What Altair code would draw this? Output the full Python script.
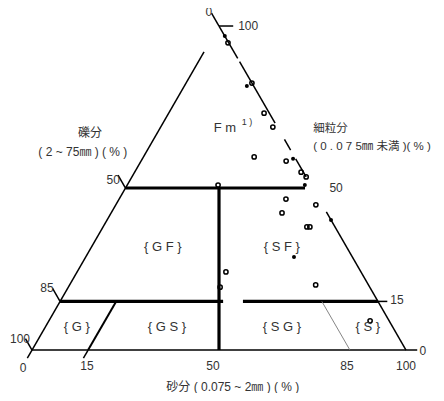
import altair as alt
import pandas as pd

# ---- sample data (ternary: sand %, fines %; gravel = 100 - sand - fines) ----
sand_open = [5.0, 17.6, 25.5, 30.0, 29.6, 38.8, 44.5, 46.6, 24.3, 44.6, 53.5, 45.7, 54.5, 55.3, 39.8, 40.6, 65.8, 85.9]
fines_open = [94.8, 82.4, 73.1, 68.8, 59.6, 58.3, 54.9, 53.4, 50.9, 46.6, 44.8, 42.3, 38.0, 38.0, 24.1, 19.4, 20.1, 9.0]
sand_solid = [3.1, 16.7, 40.3, 47.5, 59.9, 55.7]
fines_solid = [96.9, 81.5, 59.0, 50.9, 40.1, 28.7]

# ---- classification boundaries / frame (ternary endpoints: sand, fines) ----
seg_s1 = [0, 0, 10, 11, 35, 41, 57.4, 85, 0, 25, 0, 48.9, 15, 70,
          0, 0, 0, 0, 0, 15, 100, 85, 0]
seg_f1 = [0, 0, 90, 89, 65, 59, 42.6, 15, 50, 50, 15, 15, 0, 15,
          100, 50, 15, 0, 0, 0, 0, 15, 100]
seg_s2 = [100, 0, 0, 30, 38.3, 46.6, 85, 100, 48, 50, 43.6, 85, 15, 85,
          -4, -4, -4, -3.5, 0, 15, 103, 87.5, 3.8]
seg_f2 = [0, 92, 100, 70, 61.7, 53.4, 15, 0, 50, 0, 15, 15, 15, 0,
          104, 54, 19, 3.5, -2.5, -2.5, 0, 15, 100]
seg_style = ["frame", "frame", "frame", "frame", "frame", "frame", "frame", "frame",
             "major", "major", "major", "major", "minor", "thin",
             "frame", "frame", "frame", "frame", "frame", "frame", "frame", "frame", "frame"]
style_w = {"frame": 1.5, "major": 3.2, "minor": 2.0, "thin": 0.9}
style_c = {"frame": "#000000", "major": "#000000", "minor": "#000000", "thin": "#777777"}

# ---- texts ----
tick_text = ["0", "50", "85", "100", "0", "15", "50", "85", "100", "0", "15", "50", "100"]
tick_x = [47.3, 21.7, 4.0, -3.2, -2.4, 14.7, 48.4, 84.2, 100.0, 104.5, 97.6, 81.3, 57.8]
tick_y = [104.3, 52.5, 19.1, 3.4, -5.6, -4.9, -4.9, -4.9, -4.9, -0.3, 15.4, 50.0, 100.0]

zone_text = ["{ G }", "{ G S }", "{ S G }", "{ S }", "{ S F }", "{ G F }", "F m"]
zone_x = [12.0, 36.1, 66.8, 89.8, 66.8, 35.0, 51.6]
zone_y = [7.1, 7.1, 7.1, 7.1, 31.8, 31.8, 68.5]

axis_text_c = ["礫分", "( 2 ~ 75㎜ ) ( % )", "砂分 ( 0.075 ~ 2㎜ ) ( % )"]
axis_x_c = [15.5, 13.6, 53.7]
axis_y_c = [67.0, 61.1, -11.4]
axis_text_l = ["細粒分", "( 0 . 0 7 5㎜ 未満 )( % )"]
axis_x_l = [75.2, 75.2]
axis_y_l = [68.2, 62.7]

FONT = "Liberation Sans, Noto Sans CJK JP"
TXT = "#333333"

sx = alt.Scale(domain=[-6.417, 108.02], nice=False, zero=False)
sy = alt.Scale(domain=[-13.27, 105.56], nice=False, zero=False)


def X(f):
    return alt.X(f, type="quantitative", scale=sx, axis=None)


def Y(f):
    return alt.Y(f, type="quantitative", scale=sy, axis=None)


segs = pd.DataFrame({"s1": seg_s1, "f1": seg_f1, "s2": seg_s2, "f2": seg_f2, "st": seg_style})
segs["w"] = segs["st"].map(style_w)
segs["c"] = segs["st"].map(style_c)

rules = alt.Chart(segs).transform_calculate(
    xa="datum.s1 + datum.f1 / 2", ya="datum.f1",
    xb="datum.s2 + datum.f2 / 2", yb="datum.f2",
).mark_rule(strokeCap="butt").encode(
    x=X("xa"), y=Y("ya"), x2="xb:Q", y2="yb:Q",
    strokeWidth=alt.StrokeWidth("w:Q", scale=None),
    color=alt.Color("c:N", scale=None),
)

open_df = pd.DataFrame({"sand": sand_open, "fines": fines_open})
solid_df = pd.DataFrame({"sand": sand_solid, "fines": fines_solid})

open_pts = alt.Chart(open_df).transform_calculate(
    px="datum.sand + datum.fines / 2", py="datum.fines"
).mark_point(shape="circle", filled=False, size=18, strokeWidth=1.5, color="black", opacity=1).encode(
    x=X("px"), y=Y("py")
)
solid_pts = alt.Chart(solid_df).transform_calculate(
    px="datum.sand + datum.fines / 2", py="datum.fines"
).mark_circle(size=16, color="black", opacity=1).encode(
    x=X("px"), y=Y("py")
)

ticks = alt.Chart(pd.DataFrame({"t": tick_text, "x": tick_x, "y": tick_y})).mark_text(
    font=FONT, fontSize=12, color=TXT, align="center", baseline="middle"
).encode(x=X("x"), y=Y("y"), text="t:N")

zones = alt.Chart(pd.DataFrame({"t": zone_text, "x": zone_x, "y": zone_y})).mark_text(
    font=FONT, fontSize=13, color=TXT, align="center", baseline="middle"
).encode(x=X("x"), y=Y("y"), text="t:N")

sup = alt.Chart(pd.DataFrame({"t": ["1 )"], "x": [57.5], "y": [70.4]})).mark_text(
    font=FONT, fontSize=9, color=TXT, align="center", baseline="middle"
).encode(x=X("x"), y=Y("y"), text="t:N")

axc = alt.Chart(pd.DataFrame({"t": axis_text_c, "x": axis_x_c, "y": axis_y_c})).mark_text(
    font=FONT, fontSize=12, color=TXT, align="center", baseline="middle"
).encode(x=X("x"), y=Y("y"), text="t:N")

axl = alt.Chart(pd.DataFrame({"t": axis_text_l, "x": axis_x_l, "y": axis_y_l})).mark_text(
    font=FONT, fontSize=11.5, color=TXT, align="left", baseline="middle"
).encode(x=X("x"), y=Y("y"), text="t:N")

chart = alt.layer(rules, open_pts, solid_pts, ticks, zones, sup, axc, axl).properties(
    width=428, height=385, padding=0, autosize=alt.AutoSizeParams(type="none"),
    background="white",
).configure_view(stroke=None)

chart.save("out.html", embed_options={"renderer": "svg", "actions": False})
